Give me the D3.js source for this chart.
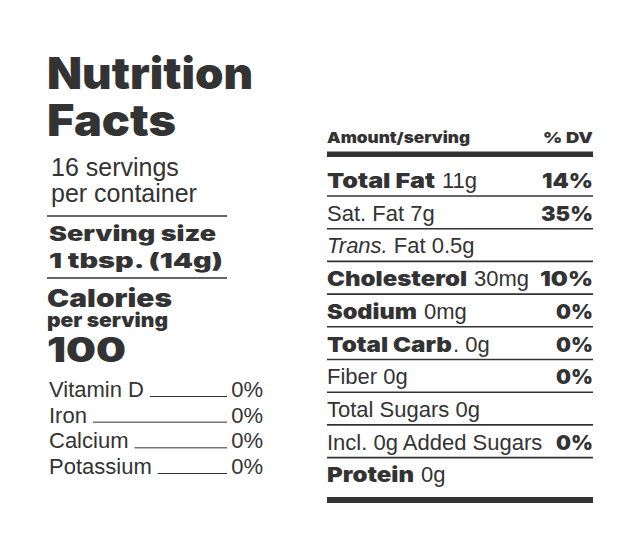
<!DOCTYPE html>
<html><head><meta charset="utf-8">
<script src="https://cdn.jsdelivr.net/npm/d3@7"></script>
<style>html,body{margin:0;padding:0;background:#fff}</style>
</head><body>
<svg id="c" width="641" height="537"></svg>
<script>
const titleLines = ["Nutrition", "Facts"];
const servingsLines = ["16 servings", "per container"];
const servingSizeLines = ["Serving size", "1 tbsp. (14g)"];
const caloriesLabel = ["Calories", "per serving"];
const caloriesValue = 100;
const vitaminNames = ["Vitamin D", "Iron", "Calcium", "Potassium"];
const vitaminDV = ["0%", "0%", "0%", "0%"];
const nutrientNames = ["Total Fat", "Sat. Fat", "Trans. Fat", "Cholesterol", "Sodium", "Total Carb", "Fiber", "Total Sugars", "Incl. 0g Added Sugars", "Protein"];
const nutrientAmounts = ["11g", "7g", "0.5g", "30mg", "0mg", "0g", "0g", "0g", "", "0g"];
const nutrientDV = ["14%", "35%", "", "10%", "0%", "0%", "0%", "", "0%", ""];
const nutrientLevel = [0, 1, 1, 0, 0, 0, 1, 1, 1, 0];
const headerLabels = ["Amount/serving", "% DV"];

const INK = "#333";
const HEAVY = "Inter, 'DejaVu Sans', sans-serif";
const REG = "'Liberation Sans', Arial, sans-serif";

// rendered widths of the wide black typeface, used to stretch the stand-in font
const heavyWidth = {
  "Nutrition": 206, "Facts": 129, "Serving size": 167, "1 tbsp. (14g)": 174,
  "Calories": 125, "per serving": 121, "100": 79, "Amount/serving": 143, "% DV": 50,
  "Total Fat": 108, "Cholesterol": 140, "Sodium": 90, "Total Carb": 125, "Protein": 87,
  "14%": 51, "35%": 52, "10%": 53, "0%": 37
};

const svg = d3.select("#c");
svg.append("rect").attr("width", 641).attr("height", 537).attr("fill", "#fff");

function heavy(g, str, x, y, size, anchorEnd) {
  const w = heavyWidth[str];
  const t = g.append("text").attr("y", y)
    .attr("font-family", HEAVY).attr("font-weight", 900).attr("font-size", size)
    .attr("fill", INK).text(str);
  if (w) t.attr("textLength", w).attr("lengthAdjust", "spacingAndGlyphs");
  const width = w || t.node().getComputedTextLength();
  t.attr("x", anchorEnd ? x - width : x);
  return width;
}

// ---------- Left column ----------
const L = svg.append("g");
const titleY = d3.scalePoint().domain(titleLines).range([89, 136]);
titleLines.forEach(d => heavy(L, d, 47, titleY(d), 44));

const servY = d3.scalePoint().domain(servingsLines).range([176, 202]);
L.selectAll("text.serv").data(servingsLines).join("text")
  .attr("x", 51).attr("y", d => servY(d))
  .attr("font-family", REG).attr("font-size", 25).attr("fill", INK).text(d => d);

const leftX = d3.scaleLinear().domain([0, 1]).range([47, 227]);
[216, 278].forEach(y => {
  L.append("line").attr("x1", leftX(0)).attr("x2", leftX(1)).attr("y1", y).attr("y2", y)
    .attr("stroke", INK).attr("stroke-width", 1.6);
});

const ssY = d3.scalePoint().domain(servingSizeLines).range([241, 268]);
servingSizeLines.forEach(d => heavy(L, d, 49, ssY(d), 20.5));

heavy(L, caloriesLabel[0], 47, 307, 25);
heavy(L, caloriesLabel[1], 47, 327, 20);
heavy(L, String(caloriesValue), 47, 361.5, 34);

const vitY = d3.scalePoint().domain(vitaminNames).range([397, 474]);
vitaminNames.forEach((name, i) => {
  const t = L.append("text").attr("x", 49).attr("y", vitY(name))
    .attr("font-family", REG).attr("font-size", 22).attr("fill", INK).text(name);
  const w = t.node().getComputedTextLength();
  L.append("line").attr("x1", 49 + w + 6).attr("x2", leftX(1))
    .attr("y1", vitY(name) - 0.5).attr("y2", vitY(name) - 0.5)
    .attr("stroke", INK).attr("stroke-width", 1);
  L.append("text").attr("x", 263).attr("y", vitY(name)).attr("text-anchor", "end")
    .attr("font-family", REG).attr("font-size", 22).attr("fill", INK).text(vitaminDV[i]);
});

// ---------- Right column ----------
const R = svg.append("g");
const rx = d3.scaleLinear().domain([0, 1]).range([327, 593]);
heavy(R, headerLabels[0], rx(0), 143, 15);
heavy(R, headerLabels[1], rx(1), 143, 15, true);
R.append("rect").attr("x", rx(0)).attr("y", 151.5).attr("width", rx(1) - rx(0)).attr("height", 5.5).attr("fill", INK);

const rowY = d3.scaleBand().domain(d3.range(nutrientNames.length)).range([163.3, 490.3]);
nutrientNames.forEach((name, i) => {
  const base = rowY(i) + rowY.bandwidth() - 8;
  if (nutrientLevel[i] === 0) {
    const w = heavy(R, name, rx(0), base, 20.5);
    const amt = name === "Total Carb" ? ". " + nutrientAmounts[i] : nutrientAmounts[i];
    R.append("text").attr("x", rx(0) + w + (name === "Total Carb" ? 1 : 7)).attr("y", base)
      .attr("font-family", REG).attr("font-size", 22).attr("fill", INK).text(amt);
  } else if (name.startsWith("Trans.")) {
    const t = R.append("text").attr("x", rx(0)).attr("y", base).attr("fill", INK)
      .attr("font-family", REG).attr("font-size", 22);
    t.append("tspan").attr("font-style", "italic").text("Trans.");
    t.append("tspan").text(name.slice(6) + " " + nutrientAmounts[i]);
  } else {
    R.append("text").attr("x", rx(0)).attr("y", base)
      .attr("font-family", REG).attr("font-size", 22).attr("fill", INK)
      .text(nutrientAmounts[i] ? name + " " + nutrientAmounts[i] : name);
  }
  if (nutrientDV[i]) heavy(R, nutrientDV[i], rx(1), base, 20.5, true);
  if (i < nutrientNames.length - 1) {
    const ly = rowY(i) + rowY.bandwidth();
    R.append("line").attr("x1", rx(0)).attr("x2", rx(1)).attr("y1", ly).attr("y2", ly)
      .attr("stroke", INK).attr("stroke-width", 1.6);
  }
});
R.append("rect").attr("x", rx(0)).attr("y", 497).attr("width", rx(1) - rx(0)).attr("height", 6).attr("fill", INK);
</script>
</body></html>
